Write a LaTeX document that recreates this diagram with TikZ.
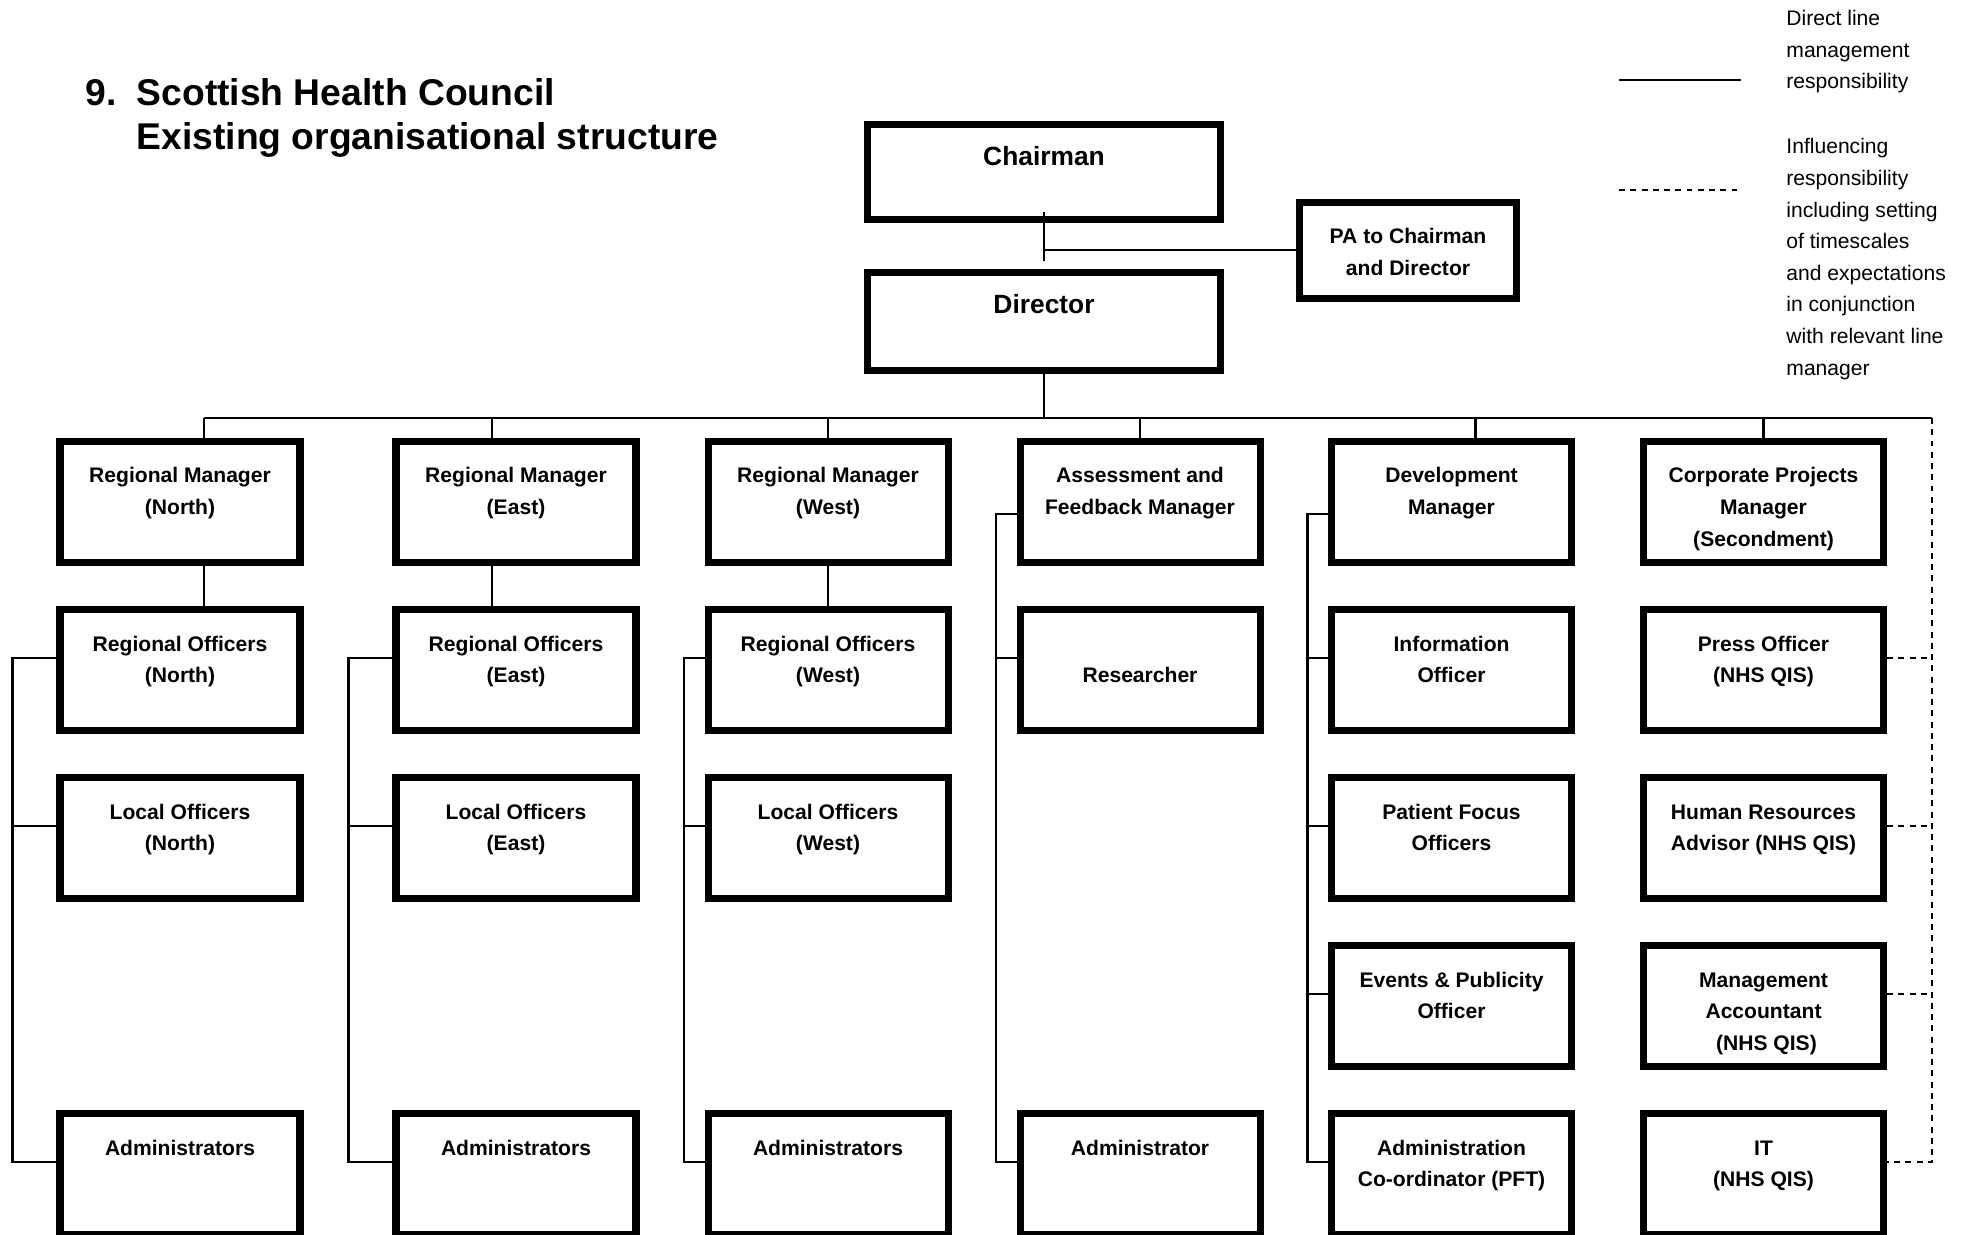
\documentclass[tikz,border=0pt]{standalone}
\usepackage{fontspec}
\setmainfont{Liberation Sans}
\begin{document}
\begin{tikzpicture}[
  link/.style={line width=0.6pt},
  influence/.style={line width=0.6pt, dash pattern=on 1.7pt off 1.5pt},
  post/.style n args={3}{draw, line width=2pt, inner sep=0pt,
    font=\bfseries\fontsize{#3}{9.1}\selectfont,
    execute at begin node={\begin{minipage}[t][#2][t]{#1}\centering\rule{0pt}{11.8pt}},
    execute at end node={\end{minipage}}},
  head/.style={post={3.53cm}{#1}{7.5}},
  unit/.style={post={2.40cm}{1.21cm}{6}},
  note/.style={anchor=north west, align=left, inner sep=0pt, font=\fontsize{6}{9}\selectfont},
  heading/.style={inner sep=0pt, font=\bfseries\fontsize{10.6}{12.5}\selectfont}
]
\useasboundingbox (0,0) rectangle (19.67,-12.34);
\node[heading, anchor=base west] (num) at (0.846,-1.05) {9.};
\node[heading, anchor=north west, align=left] (title) at (1.36,-0.776) {Scottish Health Council\\Existing organisational structure};
\draw[link] (16.19,-0.80) -- (17.41,-0.80);
\draw[influence] (16.19,-1.90) -- (17.38,-1.90);
\node[note] (direct) at (17.857,-0.095) {Direct line\\management\\responsibility};
\node[note] (influ) at (17.857,-1.378) {Influencing\\responsibility\\including setting\\of timescales\\and expectations\\in conjunction\\with relevant line\\manager};
\node[head=0.95cm] (chair) at (10.44,-1.72) {Chairman};
\node[head=0.98cm] (dir) at (10.44,-3.215) {Director};
\node[post={2.17cm}{0.96cm}{6}] (pa) at (14.08,-2.504) {PA to Chairman\\and Director};
\node[unit] (rmn) at (1.80,-5.02) {Regional Manager\\(North)};
\node[unit] (rme) at (5.16,-5.02) {Regional Manager\\(East)};
\node[unit] (rmw) at (8.28,-5.02) {Regional Manager\\(West)};
\node[unit] (afm) at (11.40,-5.02) {Assessment and\\Feedback Manager};
\node[unit] (dvm) at (14.515,-5.02) {Development\\Manager};
\node[unit] (cpm) at (17.635,-5.02) {Corporate Projects\\Manager\\(Secondment)};
\node[unit] (ron) at (1.80,-6.70) {Regional Officers\\(North)};
\node[unit] (roe) at (5.16,-6.70) {Regional Officers\\(East)};
\node[unit] (row) at (8.28,-6.70) {Regional Officers\\(West)};
\node[unit] (res) at (11.40,-6.70) {\\Researcher};
\node[unit] (inf) at (14.515,-6.70) {Information\\Officer};
\node[unit] (prs) at (17.635,-6.70) {Press Officer\\(NHS QIS)};
\node[unit] (lon) at (1.80,-8.38) {Local Officers\\(North)};
\node[unit] (loe) at (5.16,-8.38) {Local Officers\\(East)};
\node[unit] (low) at (8.28,-8.38) {Local Officers\\(West)};
\node[unit] (pfo) at (14.515,-8.38) {Patient Focus\\Officers};
\node[unit] (hra) at (17.635,-8.38) {Human Resources\\Advisor (NHS QIS)};
\node[unit] (epo) at (14.515,-10.06) {Events \& Publicity\\Officer};
\node[unit] (mac) at (17.635,-10.06) {Management\\Accountant\\\ (NHS QIS)};
\node[unit] (adn) at (1.80,-11.74) {Administrators};
\node[unit] (ade) at (5.16,-11.74) {Administrators};
\node[unit] (adw) at (8.28,-11.74) {Administrators};
\node[unit] (adm) at (11.40,-11.74) {Administrator};
\node[unit] (aco) at (14.515,-11.74) {Administration\\Co-ordinator (PFT)};
\node[unit] (itq) at (17.635,-11.74) {IT\\(NHS QIS)};
\coordinate (busL) at (2.04,-4.18);
\coordinate (busR) at (19.32,-4.18);
\draw[link] ([yshift=0.11cm]chair.south) -- ([yshift=0.08cm]dir.north);
\draw[link] (pa.west) -- (pa.west -| chair.south);
\draw[link] (dir.south) -- (dir.south |- busL);
\draw[link] (busL) -- (busR);
\draw[link] ([xshift=0.24cm]rmn.north) -- ([xshift=0.24cm]rmn.north |- busL);
\draw[link] ([xshift=-0.24cm]rme.north) -- ([xshift=-0.24cm]rme.north |- busL);
\draw[link] (rmw.north) -- (rmw.north |- busL);
\draw[link] (afm.north) -- (afm.north |- busL);
\draw[link] ([xshift=0.24cm]dvm.north) -- ([xshift=0.24cm]dvm.north |- busL);
\draw[link] (cpm.north) -- (cpm.north |- busL);
\draw[link] ([xshift=0.24cm]rmn.south) -- ([xshift=0.24cm]ron.north);
\draw[link] ([xshift=-0.24cm]rme.south) -- ([xshift=-0.24cm]roe.north);
\draw[link] (rmw.south) -- (row.north);
\draw[link] ([yshift=0.12cm]ron.west) -- ++(-0.44,0) |- ([yshift=0.12cm]adn.west);
\draw[link] ([yshift=0.12cm]lon.west) -- ++(-0.44,0);
\draw[link] ([yshift=0.12cm]roe.west) -- ++(-0.44,0) |- ([yshift=0.12cm]ade.west);
\draw[link] ([yshift=0.12cm]loe.west) -- ++(-0.44,0);
\draw[link] ([yshift=0.12cm]row.west) -- ++(-0.205,0) |- ([yshift=0.12cm]adw.west);
\draw[link] ([yshift=0.12cm]low.west) -- ++(-0.205,0);
\draw[link] ([yshift=-0.12cm]afm.west) -- ++(-0.205,0) |- ([yshift=0.12cm]adm.west);
\draw[link] ([yshift=0.12cm]res.west) -- ++(-0.205,0);
\draw[link] ([yshift=-0.12cm]dvm.west) -- ++(-0.205,0) |- ([yshift=0.12cm]aco.west);
\draw[link] ([yshift=0.12cm]inf.west) -- ++(-0.205,0);
\draw[link] ([yshift=0.12cm]pfo.west) -- ++(-0.205,0);
\draw[link] ([yshift=0.12cm]epo.west) -- ++(-0.205,0);
\draw[influence] (busR) |- ([yshift=0.12cm]itq.east);
\draw[influence] ([yshift=0.12cm]prs.east) -- ([yshift=0.12cm]prs.east -| busR);
\draw[influence] ([yshift=0.12cm]hra.east) -- ([yshift=0.12cm]hra.east -| busR);
\draw[influence] ([yshift=0.12cm]mac.east) -- ([yshift=0.12cm]mac.east -| busR);
\end{tikzpicture}
\end{document}
